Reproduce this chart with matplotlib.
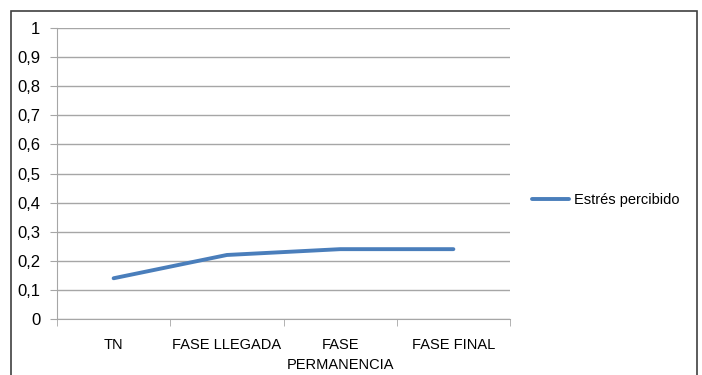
import matplotlib.pyplot as plt
import matplotlib.patches as patches
import numpy as np

# stress levels per phase
fases = ['TN', 'FASE LLEGADA', 'FASE\nPERMANENCIA', 'FASE FINAL']
estres = [0.14, 0.22, 0.24, 0.24]
serie = 'Estrés percibido'

plt.rcParams['font.family'] = ['Liberation Sans', 'DejaVu Sans']

fig = plt.figure(figsize=(7.02, 3.75), dpi=100)
ax = fig.add_axes([57/702, 1-319/375, (510-57)/702, (319-28)/375])

grid_col = '#a6a6a6'
x = np.arange(len(fases))
ax.plot(x, estres, color='#4a7ebb', lw=2.8, solid_capstyle='round', label=serie)

ax.set_xlim(-0.5, len(fases)-0.5)
ax.set_ylim(0, 1)
yt = np.round(np.arange(0, 1.01, 0.1), 1)
ax.set_yticks(yt)
ax.set_yticklabels([('%g' % v).replace('.', ',') for v in yt])
ax.yaxis.grid(True, color=grid_col, lw=1)
ax.set_axisbelow(True)

ax.set_xticks(x)
ax.set_xticklabels(fases, linespacing=1.5)
ax.set_xticks(np.arange(-0.5, len(fases), 1), minor=True)
ax.tick_params(axis='x', which='major', length=0, pad=14, labelsize=10.5)
ax.tick_params(axis='x', which='minor', length=5, color=grid_col, direction='out')
ax.tick_params(axis='y', length=5, color=grid_col, pad=7, labelsize=12)

for s in ['top', 'right']:
    ax.spines[s].set_visible(False)
for s in ['left', 'bottom']:
    ax.spines[s].set_color(grid_col)

leg = ax.legend(loc='center left', bbox_to_anchor=(1.02, 0.41), frameon=False,
                fontsize=10.5, handlelength=2.5, handletextpad=0.4)

# chart border
fig.patches.append(patches.Rectangle((11/702, -0.1), (697-11)/702, 1.1 - 11/375,
                                     transform=fig.transFigure, fill=False,
                                     edgecolor='#404040', lw=1.2))

fig.savefig('out.png', dpi=100)
